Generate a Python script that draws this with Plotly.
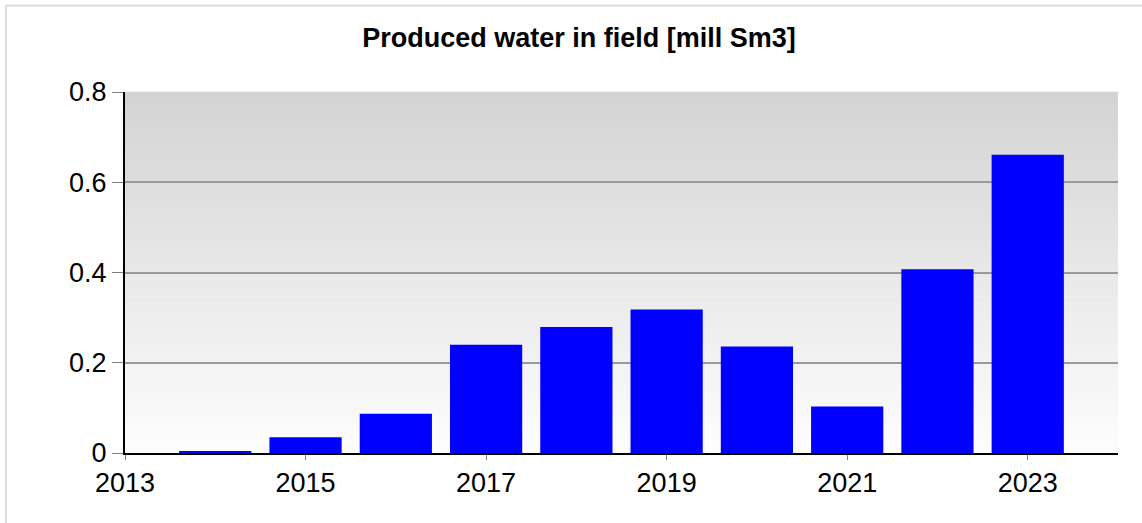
import plotly.graph_objects as go

years = [2014, 2015, 2016, 2017, 2018, 2019, 2020, 2021, 2022, 2023]
water = [0.003, 0.035, 0.087, 0.240, 0.279, 0.318, 0.236, 0.103, 0.407, 0.661]
x_ticks = [2013, 2015, 2017, 2019, 2021, 2023]
y_ticks = [0, 0.2, 0.4, 0.6, 0.8]

W, H = 1142, 523
L, R, T, B = 125, 24, 92, 70
pw, ph = W - L - R, H - T - B

fig = go.Figure()
fig.add_trace(go.Bar(x=years, y=water, width=0.8, marker=dict(color="#0000ff", line=dict(width=0)),
                     hoverinfo="x+y"))

shapes = []
n = 60
top, bot = 211, 253
for i in range(n):
    c = int(round(bot + (top - bot) * (i + 0.5) / n))
    shapes.append(dict(type="rect", xref="x domain", yref="y domain", x0=0, x1=1,
                       y0=i / n, y1=(i + 1) / n + 0.001, fillcolor=f"rgb({c},{c},{c})",
                       line=dict(width=0), layer="below"))
# outer border lines (top and left)
shapes.append(dict(type="line", xref="paper", yref="paper",
                   x0=(6 - L) / pw, x1=(W - L) / pw, y0=(H - B - 5.5) / ph, y1=(H - B - 5.5) / ph,
                   line=dict(color="#dcdcdc", width=2)))
shapes.append(dict(type="line", xref="paper", yref="paper",
                   x0=(6 - L) / pw, x1=(6 - L) / pw, y0=(H - B - 5.5) / ph, y1=(H - B - H) / ph,
                   line=dict(color="#dcdcdc", width=2)))

fig.update_layout(
    width=W, height=H,
    margin=dict(l=L, r=R, t=T, b=B),
    paper_bgcolor="white", plot_bgcolor="white",
    font=dict(family="Liberation Sans, Arial, sans-serif", color="black"),
    title=dict(text="<b>Produced water in field [mill Sm3]</b>", x=579 / W, xanchor="center",
               y=1 - 38 / H, yanchor="middle", font=dict(size=27, color="black")),
    shapes=shapes,
    showlegend=False,
    bargap=0.2,
)
fig.update_xaxes(range=[2013, 2024], tickvals=x_ticks, ticktext=[str(v) for v in x_ticks],
                 ticks="outside", ticklen=5, tickcolor="#808080", tickfont=dict(size=27),
                 showline=True, linecolor="black", linewidth=2, showgrid=False, zeroline=False)
fig.update_yaxes(range=[0, 0.8], tickvals=y_ticks, ticktext=["0", "0.2", "0.4", "0.6", "0.8"],
                 ticks="outside", ticklen=11, tickcolor="#808080", tickfont=dict(size=27),
                 showline=True, linecolor="black", linewidth=2,
                 showgrid=True, gridcolor="#9a9a9a", gridwidth=1.5, zeroline=False)

fig.write_html("out.html", config={"displayModeBar": False},
               post_script="document.body.style.margin='0';document.body.style.overflow='hidden';")
